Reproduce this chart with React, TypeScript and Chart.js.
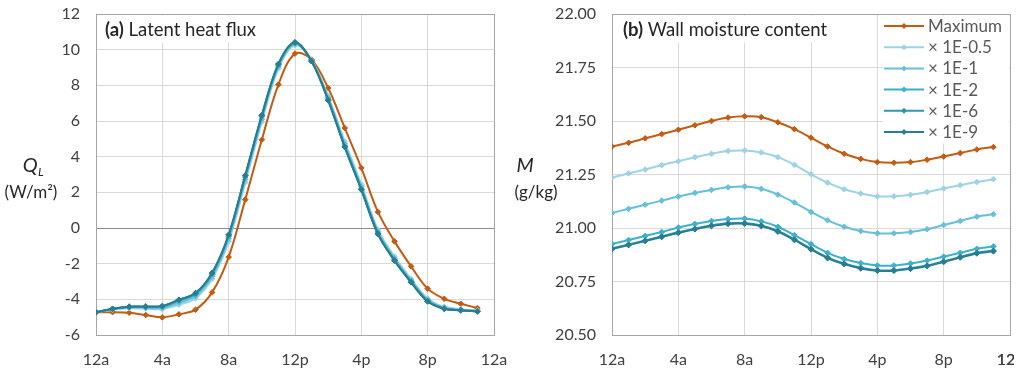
import React, { useEffect, useRef } from "react";
import { Chart, registerables } from "chart.js";

Chart.register(...registerables);

// ---------- data ----------
const HOURS = [0, 1, 2, 3, 4, 5, 6, 7, 8, 9, 10, 11, 12, 13, 14, 15, 16, 17, 18, 19, 20, 21, 22, 23];
const X_TICK_LABELS = ["12a", "4a", "8a", "12p", "4p", "8p", "12a"];
const SERIES_LABELS = ["Maximum", "× 1E-0.5", "× 1E-1", "× 1E-2", "× 1E-6", "× 1E-9"];
const SERIES_COLORS = ["#C55A11", "#9DD3E4", "#66C0DA", "#3CB0CF", "#3196AE", "#2A7D8F"];

// (a) Latent heat flux, W/m2
const QL_MAX = [-4.73, -4.72, -4.75, -4.88, -5.01, -4.84, -4.58, -3.61, -1.63, 1.59, 4.95, 8.04, 9.78, 9.44, 7.85, 5.61, 3.37, 0.9, -0.75, -2.15, -3.4, -3.97, -4.25, -4.49];
const QL_E05 = [-4.73, -4.58, -4.5, -4.52, -4.55, -4.3, -3.95, -2.85, -0.75, 2.55, 5.95, 8.95, 10.25, 9.4, 7.4, 4.85, 2.45, -0.1, -1.6, -2.85, -3.95, -4.42, -4.55, -4.62];
const QL_E1 = [-4.73, -4.56, -4.46, -4.47, -4.48, -4.18, -3.82, -2.72, -0.6, 2.72, 6.1, 9.05, 10.32, 9.38, 7.3, 4.72, 2.32, -0.2, -1.7, -2.93, -4.02, -4.47, -4.58, -4.65];
const QL_E2 = [-4.73, -4.54, -4.43, -4.43, -4.42, -4.08, -3.72, -2.6, -0.46, 2.86, 6.24, 9.14, 10.38, 9.36, 7.21, 4.6, 2.2, -0.28, -1.78, -3.0, -4.08, -4.51, -4.61, -4.67];
const QL_E6 = [-4.73, -4.53, -4.41, -4.41, -4.38, -4.03, -3.66, -2.53, -0.39, 2.94, 6.31, 9.19, 10.4, 9.35, 7.17, 4.55, 2.16, -0.33, -1.82, -3.04, -4.11, -4.53, -4.62, -4.68];
const QL_E9 = [-4.73, -4.53, -4.41, -4.4, -4.37, -4.02, -3.65, -2.52, -0.38, 2.95, 6.32, 9.2, 10.41, 9.35, 7.16, 4.54, 2.15, -0.34, -1.83, -3.05, -4.12, -4.53, -4.62, -4.68];

// (b) Wall moisture content, g/kg
const M_MAX = [21.381, 21.398, 21.419, 21.439, 21.459, 21.48, 21.5, 21.516, 21.522, 21.518, 21.494, 21.462, 21.422, 21.381, 21.347, 21.323, 21.308, 21.305, 21.308, 21.319, 21.334, 21.35, 21.367, 21.378];
const M_E05 = [21.236, 21.255, 21.273, 21.294, 21.312, 21.331, 21.347, 21.36, 21.362, 21.353, 21.331, 21.295, 21.251, 21.212, 21.181, 21.161, 21.148, 21.148, 21.155, 21.168, 21.185, 21.2, 21.215, 21.228];
const M_E1 = [21.07, 21.09, 21.109, 21.128, 21.147, 21.164, 21.178, 21.19, 21.194, 21.183, 21.156, 21.119, 21.075, 21.036, 21.006, 20.986, 20.975, 20.975, 20.981, 20.994, 21.014, 21.033, 21.053, 21.064];
const M_E2 = [20.925, 20.944, 20.963, 20.981, 21.002, 21.019, 21.033, 21.042, 21.044, 21.031, 21.006, 20.967, 20.925, 20.884, 20.855, 20.836, 20.825, 20.825, 20.834, 20.848, 20.866, 20.884, 20.903, 20.914];
const M_E6 = [20.905, 20.923, 20.942, 20.961, 20.98, 20.997, 21.012, 21.022, 21.023, 21.012, 20.986, 20.947, 20.903, 20.862, 20.834, 20.814, 20.803, 20.803, 20.812, 20.825, 20.844, 20.865, 20.884, 20.894];
const M_E9 = [20.902, 20.92, 20.939, 20.958, 20.977, 20.994, 21.009, 21.019, 21.02, 21.009, 20.983, 20.944, 20.9, 20.859, 20.831, 20.811, 20.8, 20.8, 20.809, 20.822, 20.841, 20.862, 20.881, 20.891];

const QL_SERIES = [QL_MAX, QL_E05, QL_E1, QL_E2, QL_E6, QL_E9];
const M_SERIES = [M_MAX, M_E05, M_E1, M_E2, M_E6, M_E9];

const FONT = "Lato";
const TEXT = "#404040";
const GRID = "#D9D9D9";
const TICK_SIZE = 16;
const X_TICK_PAD = 15;

function buildDatasets(series: number[][]) {
  return series.map((vals, i) => ({
    label: SERIES_LABELS[i],
    data: HOURS.map((h, j) => ({ x: h, y: vals[j] })),
    borderColor: SERIES_COLORS[i],
    backgroundColor: SERIES_COLORS[i],
    borderWidth: 2,
    pointStyle: "rectRot" as const,
    pointRadius: 2.8,
    pointBorderWidth: 1,
    pointBackgroundColor: SERIES_COLORS[i],
    pointBorderColor: SERIES_COLORS[i],
    tension: 0.35,
    order: series.length - i,
  }));
}

type Cfg = {
  boldTitle: string;
  title: string;
  titleX: number;
  yMain: string;
  ySub: string;
  yMainX: number;
  yUnit: string;
  yUnitX: number;
  legend: boolean;
};

function makeDecor(cfg: Cfg) {
  return {
    id: "decor",
    beforeDatasetsDraw(chart: any) {
      const { ctx, chartArea: a } = chart;
      ctx.save();
      // plot border
      ctx.strokeStyle = "#A6A6A6";
      ctx.lineWidth = 1;
      ctx.strokeRect(Math.round(a.left) + 0.5, Math.round(a.top) + 0.5, Math.round(a.right) - Math.round(a.left), Math.round(a.bottom) - Math.round(a.top));
      // panel title on a white box
      ctx.font = `bold 18.5px ${FONT}`;
      const w1 = ctx.measureText(cfg.boldTitle).width;
      ctx.font = `18.5px ${FONT}`;
      const w2 = ctx.measureText(" " + cfg.title).width;
      ctx.fillStyle = "#FFFFFF";
      ctx.fillRect(cfg.titleX - 4, a.top + 1.5, w1 + w2 + 8, 27);
      ctx.fillStyle = "#262626";
      ctx.textBaseline = "alphabetic";
      ctx.textAlign = "left";
      ctx.font = `bold 18.5px ${FONT}`;
      ctx.fillText(cfg.boldTitle, cfg.titleX, 35.5);
      ctx.font = `18.5px ${FONT}`;
      ctx.fillText(" " + cfg.title, cfg.titleX + w1, 35.5);
      // legend
      if (cfg.legend) {
        const right = Math.round(a.right);
        ctx.fillStyle = "#FFFFFF";
        ctx.fillRect(right - 127, a.top + 1.5, 126, 128);
        const lx0 = right - 126;
        chart.data.datasets.forEach((ds: any, i: number) => {
          const y = 26 + i * 21.2;
          ctx.strokeStyle = ds.borderColor;
          ctx.lineWidth = 2;
          ctx.beginPath();
          ctx.moveTo(lx0, y);
          ctx.lineTo(lx0 + 40, y);
          ctx.stroke();
          ctx.fillStyle = ds.borderColor;
          ctx.beginPath();
          ctx.moveTo(lx0 + 20, y - 3);
          ctx.lineTo(lx0 + 23, y);
          ctx.lineTo(lx0 + 20, y + 3);
          ctx.lineTo(lx0 + 17, y);
          ctx.closePath();
          ctx.fill();
          ctx.fillStyle = "#595959";
          ctx.font = `17px ${FONT}`;
          ctx.textBaseline = "middle";
          ctx.fillText(ds.label, lx0 + 44, y + 0.5);
        });
      }
      ctx.restore();
    },
    afterDraw(chart: any) {
      const { ctx } = chart;
      ctx.save();
      ctx.fillStyle = "#262626";
      ctx.textBaseline = "alphabetic";
      ctx.textAlign = "left";
      ctx.font = `italic 20px ${FONT}`;
      const wm = ctx.measureText(cfg.yMain).width;
      ctx.font = `italic 12px ${FONT}`;
      const ws = cfg.ySub ? ctx.measureText(cfg.ySub).width : 0;
      const sx = cfg.yMainX - (wm + ws) / 2;
      ctx.font = `italic 20px ${FONT}`;
      ctx.fillText(cfg.yMain, sx, 172);
      if (cfg.ySub) {
        ctx.font = `italic 12px ${FONT}`;
        ctx.fillText(cfg.ySub, sx + wm + 0.5, 176);
      }
      ctx.font = `17px ${FONT}`;
      ctx.textAlign = "center";
      ctx.fillText(cfg.yUnit, cfg.yUnitX, 198);
      // make sure the end-of-axis tick label is shown (partly cut by the frame edge, as in the reference)
      if (cfg.legend) {
        const xs = chart.scales.x;
        const last = xs.ticks[xs.ticks.length - 1];
        if (last && last.label) {
          ctx.fillStyle = TEXT;
          ctx.font = `${TICK_SIZE}px ${FONT}`;
          ctx.textAlign = "center";
          ctx.textBaseline = "middle";
          ctx.fillText(String(last.label), xs.getPixelForValue(last.value), xs.top + X_TICK_PAD + (TICK_SIZE * 1.2) / 2);
        }
      }
      ctx.restore();
    },
  };
}

function makeChart(canvas: HTMLCanvasElement, series: number[][], yMin: number, yMax: number, yStep: number, yDecimals: number, yAxisWidth: number, padRight: number, zeroLine: boolean, cfg: Cfg) {
  return new Chart(canvas, {
    type: "line",
    data: { datasets: buildDatasets(series) as any },
    options: {
      responsive: false,
      animation: false,
      layout: { padding: { left: 0, right: padRight, top: 14, bottom: 0 } },
      plugins: { legend: { display: false }, tooltip: { enabled: false } },
      scales: {
        x: {
          type: "linear",
          min: 0,
          max: 24,
          grid: { color: GRID, lineWidth: 1, drawTicks: false },
          border: { display: false },
          ticks: {
            stepSize: 4,
            padding: X_TICK_PAD,
            color: TEXT,
            font: { family: FONT, size: TICK_SIZE },
            maxRotation: 0,
            autoSkip: false,
            callback: (v: any) => X_TICK_LABELS[Math.round(Number(v) / 4)] ?? "",
          },
          afterFit: (s: any) => {
            s.height = 40;
            s.paddingLeft = 0;
            s.paddingRight = 0;
          },
        },
        y: {
          type: "linear",
          min: yMin,
          max: yMax,
          grid: {
            color: (c: any) => (zeroLine && c.tick && c.tick.value === 0 ? "#8C8C8C" : GRID),
            lineWidth: 1,
            drawTicks: false,
          },
          border: { display: false },
          ticks: {
            stepSize: yStep,
            padding: 16,
            color: TEXT,
            font: { family: FONT, size: TICK_SIZE },
            callback: (v: any) => Number(v).toFixed(yDecimals),
          },
          afterFit: (s: any) => {
            s.width = yAxisWidth;
            s.paddingTop = 0;
            s.paddingBottom = 0;
          },
        },
      },
    },
    plugins: [makeDecor(cfg)],
  } as any);
}

export default function App() {
  const leftRef = useRef<HTMLCanvasElement>(null);
  const rightRef = useRef<HTMLCanvasElement>(null);

  useEffect(() => {
    const c1 = makeChart(leftRef.current!, QL_SERIES, -6, 12, 2, 0, 96, 21, true, {
      boldTitle: "(a)",
      title: "Latent heat flux",
      titleX: 105,
      yMain: "Q",
      ySub: "L",
      yMainX: 33,
      yUnit: "(W/m²)",
      yUnitX: 31,
      legend: false,
    });
    const c2 = makeChart(rightRef.current!, M_SERIES, 20.5, 22, 0.25, 2, 107, 34, false, {
      boldTitle: "(b)",
      title: "Wall moisture content",
      titleX: 118,
      yMain: "M",
      ySub: "",
      yMainX: 20,
      yUnit: "(g/kg)",
      yUnitX: 31,
      legend: true,
    });
    return () => {
      c1.destroy();
      c2.destroy();
    };
  }, []);

  return (
    <div style={{ position: "absolute", left: 0, top: 0, width: 1024, height: 375, background: "#FFFFFF", overflow: "hidden" }}>
      <canvas ref={leftRef} width={515} height={375} style={{ position: "absolute", left: 0, top: 0, width: 515, height: 375 }} />
      <div style={{ position: "absolute", left: 505, top: 0, width: 509, height: 375, overflow: "hidden" }}>
        <canvas ref={rightRef} width={539} height={375} style={{ position: "absolute", left: 0, top: 0, width: 539, height: 375 }} />
      </div>
    </div>
  );
}
